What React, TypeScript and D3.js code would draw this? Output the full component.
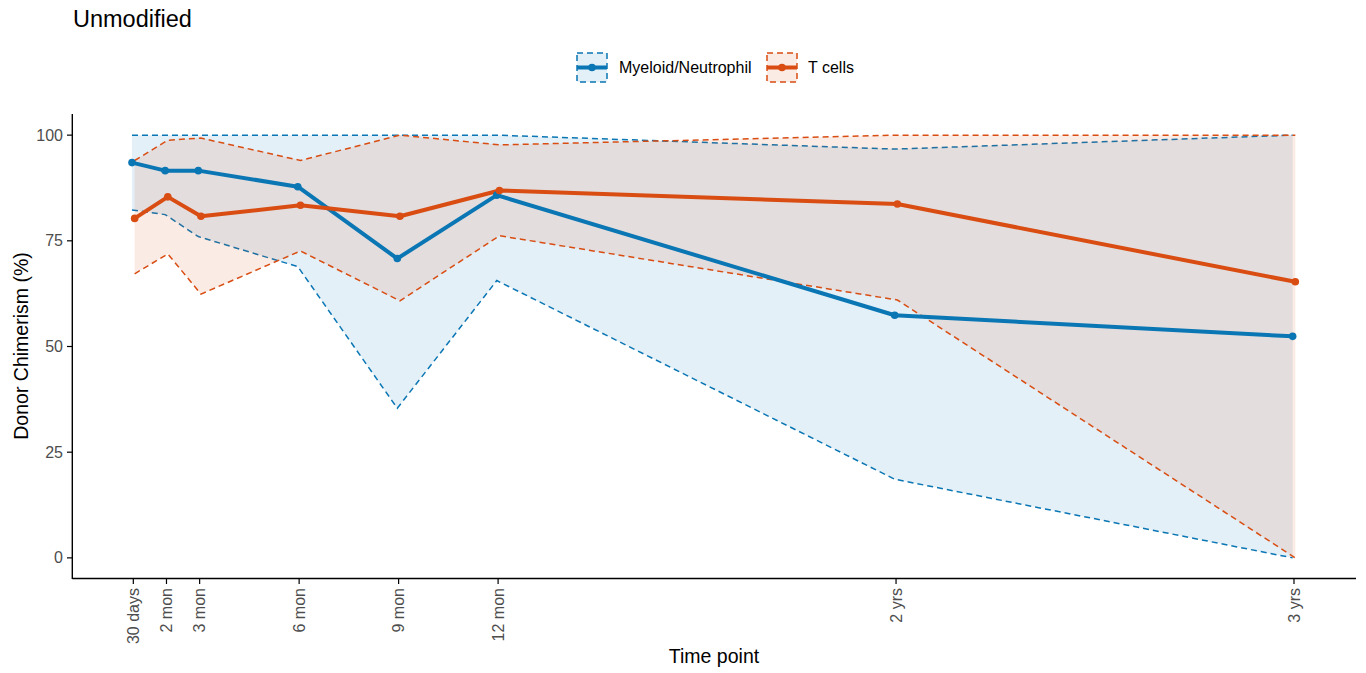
import React from "react";
import * as d3 from "d3";

// ---- data ----
const timeMonths = [1, 2, 3, 6, 9, 12, 24, 36];
const timeLabels = ["30 days", "2 mon", "3 mon", "6 mon", "9 mon", "12 mon", "2 yrs", "3 yrs"];
const yTicks = [0, 25, 50, 75, 100];

const seriesNames = ["Myeloid/Neutrophil", "T cells"];

const myeloidMean = [93.5, 91.6, 91.6, 87.8, 70.8, 85.8, 57.4, 52.4];
const myeloidLower = [82.3, 81.2, 76.0, 68.9, 35.4, 65.6, 18.6, 0];
const myeloidUpper = [100, 100, 100, 100, 100, 100, 96.7, 100];

const tcellMean = [80.3, 85.4, 80.8, 83.4, 80.8, 86.9, 83.7, 65.3];
const tcellLower = [67.2, 71.9, 62.4, 72.6, 60.8, 76.2, 61.0, 0];
const tcellUpper = [94.0, 98.8, 99.3, 94.0, 100, 97.7, 100, 100];

const colors = ["#0A76B4", "#D94D12"];
const dodge = [-0.04, 0.04];

const FONT = "'Liberation Sans', Arial, Helvetica, sans-serif";

export default function App() {
  const W = 1366;
  const H = 673;
  const x = d3.scaleLinear().domain([-0.84, 37.87]).range([72.3, 1356]);
  const y = d3.scaleLinear().domain([-5, 105]).range([579, 114]);

  const series = [
    { name: seriesNames[0], mean: myeloidMean, lo: myeloidLower, hi: myeloidUpper, color: colors[0], dx: dodge[0] },
    { name: seriesNames[1], mean: tcellMean, lo: tcellLower, hi: tcellUpper, color: colors[1], dx: dodge[1] },
  ];
  const idx = timeMonths.map((_, i) => i);

  return (
    <svg
      width={W}
      height={H}
      style={{ position: "absolute", left: 0, top: 0, display: "block", background: "#fff" }}
      fontFamily={FONT}
    >
      <rect x={0} y={0} width={W} height={H} fill="#fff" />
      {/* title */}
      <text x={73} y={27} fontSize={23.5} fill="#000">Unmodified</text>

      {/* ribbons */}
      {series.map((s, si) => {
        const ar = d3
          .area<number>()
          .x((i) => x(timeMonths[i] + s.dx))
          .y0((i) => y(s.lo[i]))
          .y1((i) => y(s.hi[i]));
        const lineLo = d3.line<number>().x((i) => x(timeMonths[i] + s.dx)).y((i) => y(s.lo[i]));
        const lineHi = d3.line<number>().x((i) => x(timeMonths[i] + s.dx)).y((i) => y(s.hi[i]));
        return (
          <g key={"rib" + si}>
            <path d={ar(idx) || ""} fill={s.color} fillOpacity={0.11} stroke="none" />
            <path d={lineLo(idx) || ""} fill="none" stroke={s.color} strokeWidth={1.5} strokeDasharray="6,4" />
            <path d={lineHi(idx) || ""} fill="none" stroke={s.color} strokeWidth={1.5} strokeDasharray="6,4" />
          </g>
        );
      })}

      {/* mean lines */}
      {series.map((s, si) => {
        const ln = d3.line<number>().x((i) => x(timeMonths[i] + s.dx)).y((i) => y(s.mean[i]));
        return (
          <path key={"ln" + si} d={ln(idx) || ""} fill="none" stroke={s.color} strokeWidth={4} strokeLinejoin="round" />
        );
      })}
      {series.map((s, si) => (
        <g key={"pt" + si}>
          {timeMonths.map((t, i) => (
            <circle key={i} cx={x(t + s.dx)} cy={y(s.mean[i])} r={3.8} fill={s.color} />
          ))}
        </g>
      ))}

      {/* y axis */}
      <line x1={72.3} x2={72.3} y1={114} y2={579} stroke="#000" strokeWidth={1.4} />
      {yTicks.map((t) => (
        <g key={"yt" + t}>
          <line x1={67} x2={72.3} y1={y(t)} y2={y(t)} stroke="#000" strokeWidth={1.2} />
          <text x={63} y={y(t)} dy="0.35em" textAnchor="end" fontSize={16} fill="#4D4D4D">{t}</text>
        </g>
      ))}
      {/* x axis */}
      <line x1={72.3} x2={1356} y1={578.5} y2={578.5} stroke="#000" strokeWidth={1.4} />
      {timeMonths.map((t, i) => (
        <g key={"xt" + i}>
          <line x1={x(t)} x2={x(t)} y1={578.5} y2={584} stroke="#000" strokeWidth={1.2} />
          <text
            transform={`translate(${x(t)},${588}) rotate(-90)`}
            dy="0.35em"
            textAnchor="end"
            fontSize={16}
            fill="#4D4D4D"
          >
            {timeLabels[i]}
          </text>
        </g>
      ))}

      {/* axis titles */}
      <text x={714} y={663} textAnchor="middle" fontSize={19.5} fill="#000">Time point</text>
      <text transform={`translate(28,346) rotate(-90)`} textAnchor="middle" fontSize={19.5} fill="#000">
        Donor Chimerism (%)
      </text>

      {/* legend */}
      {series.map((s, si) => {
        const bx = si === 0 ? 577 : 767;
        const by = 53;
        const bw = 30;
        const bh = 29;
        const tx = si === 0 ? 619 : 808;
        return (
          <g key={"lg" + si}>
            <rect x={bx} y={by} width={bw} height={bh} fill={s.color} fillOpacity={0.11} stroke={s.color} strokeWidth={1.5} strokeDasharray="6,4" />
            <line x1={bx} x2={bx + bw} y1={by + bh / 2} y2={by + bh / 2} stroke={s.color} strokeWidth={4} />
            <circle cx={bx + bw / 2} cy={by + bh / 2} r={3.8} fill={s.color} />
            <text x={tx} y={by + bh / 2} dy="0.35em" fontSize={16} fill="#000">{s.name}</text>
          </g>
        );
      })}
    </svg>
  );
}
